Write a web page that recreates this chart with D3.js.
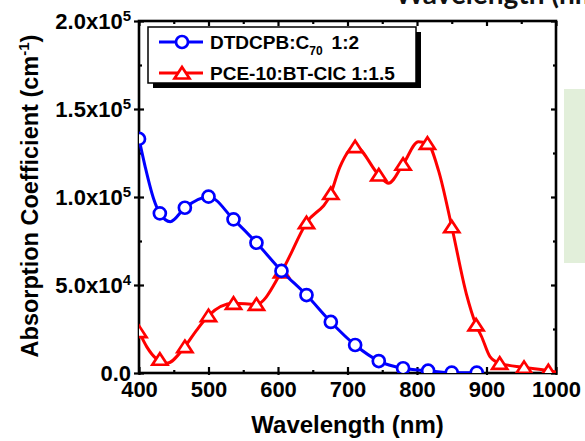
<!DOCTYPE html>
<html>
<head>
<meta charset="utf-8">
<script src="https://cdn.jsdelivr.net/npm/d3@7"></script>
<style>
body{margin:0;background:#fff;overflow:hidden}
svg{display:block;font-family:"Liberation Sans",Arial,sans-serif;font-weight:bold}
</style>
</head>
<body>
<svg id="chart" width="585" height="441"></svg>
<script>
// DTDCPB:C70 1:2 -- line points and symbol points (cm^-1)
var blueLineWl  = [400,409,421,430,445,466,500,536,569,605,641,676,711,745,780,816,850,886]
var blueLineVal = [133000,117000,99000,90700,86000,93900,100200,87300,74000,58000,44300,29000,15900,6800,2700,1300,200,200]
var blueMarkWl  = [400,430,466,500,536,569,605,641,676,711,745,780,816,850,886]
var blueMarkVal = [133000,90700,93900,100200,87300,74000,58000,44300,29000,15900,6800,2700,1300,200,200]

// PCE-10:BT-CIC 1:1.5
var redLineWl  = [400,411,440,466,483,500,536,569,605,641,676,689,711,745,759,780,802,815,831,850,871,885,893,905,919,954,989,1000]
var redLineVal = [23500,15000,5500,15000,24400,32600,39600,39000,57500,85400,102000,117000,128600,112500,107800,118600,131400,130500,115000,83100,45000,27300,20600,9300,5500,3200,1300,500]
var redMarkWl  = [400,430,466,500,536,569,605,641,676,711,745,780,815,850,885,919,954,989]
var redMarkVal = [23500,7800,15000,32600,39600,39000,57500,85400,102000,128600,112500,118600,130500,83100,27300,5500,3200,1300]

var xTicks = [400,500,600,700,800,900,1000]
var xMinor = [450,550,650,750,850,950]
var yTicks = [0,50000,100000,150000,200000]
var yMinor = [25000,75000,125000,175000]
var yMant  = ["0.0","5.0x10","1.0x10","1.5x10","2.0x10"]
var yExp   = ["","4","5","5","5"]

var pL=139,pR=556,pT=21,pB=373
var svg=d3.select("#chart")

var x=d3.scaleLinear().domain([400,1000]).range([pL,pR])
var y=d3.scaleLinear().domain([0,200000]).range([pB,pT])

// stray bits of the page around the figure
svg.append("rect").attr("x",564).attr("y",89).attr("width",30).attr("height",174).attr("fill","#e2efda")
svg.append("text").attr("x",395).attr("y",4)
   .style("font-family","Lato,'Open Sans',sans-serif").style("font-size","28px")
   .attr("fill","#111").text("Wavelength (nm)")

svg.append("clipPath").attr("id","plotclip")
   .append("rect").attr("x",pL).attr("y",pT).attr("width",pR-pL).attr("height",pB-pT)

function styleAxis(g){
  g.select(".domain").remove()
  g.selectAll(".tick line").attr("stroke","#000").attr("stroke-width",2.2)
}

// bottom
svg.append("g").attr("transform",`translate(0,${pB})`)
   .call(d3.axisBottom(x).tickValues(xTicks).tickSize(-6).tickFormat(d3.format("d")))
   .call(styleAxis)
   .call(g=>g.selectAll("text").attr("y",24).attr("dy",null)
        .style("font-size","22px").style("font-family","'Liberation Sans',Arial,sans-serif").attr("fill","#000"))
svg.append("g").attr("transform",`translate(0,${pB})`)
   .call(d3.axisBottom(x).tickValues(xTicks).tickSize(2).tickFormat(""))
   .call(styleAxis)
svg.append("g").attr("transform",`translate(0,${pB})`)
   .call(d3.axisBottom(x).tickValues(xMinor).tickSize(-3).tickFormat(""))
   .call(styleAxis)
// top
svg.append("g").attr("transform",`translate(0,${pT})`)
   .call(d3.axisTop(x).tickValues(xTicks).tickSize(-5).tickFormat(""))
   .call(styleAxis)
svg.append("g").attr("transform",`translate(0,${pT})`)
   .call(d3.axisTop(x).tickValues(xMinor).tickSize(-3).tickFormat(""))
   .call(styleAxis)

// left
var yl=svg.append("g").attr("transform",`translate(${pL},0)`)
   .call(d3.axisLeft(y).tickValues(yTicks).tickSize(5).tickFormat(""))
   .call(styleAxis)
yl.selectAll("text").remove()
yl.selectAll(".tick").append("text")
   .attr("x",-8).attr("dy","0.36em").attr("text-anchor","end")
   .style("font-size","22px").style("font-family","'Liberation Sans',Arial,sans-serif").attr("fill","#000")
   .each(function(d,i){
     var t=d3.select(this)
     t.append("tspan").text(yMant[i])
     if(yExp[i]) t.append("tspan").attr("dy",-8).style("font-size","15px").text(yExp[i])
   })
svg.append("g").attr("transform",`translate(${pL},0)`)
   .call(d3.axisLeft(y).tickValues(yTicks).tickSize(-5).tickFormat(""))
   .call(styleAxis)
svg.append("g").attr("transform",`translate(${pL},0)`)
   .call(d3.axisLeft(y).tickValues(yMinor).tickSize(-3).tickFormat(""))
   .call(styleAxis)
// right
svg.append("g").attr("transform",`translate(${pR},0)`)
   .call(d3.axisRight(y).tickValues(yTicks).tickSize(-5).tickFormat(""))
   .call(styleAxis)
svg.append("g").attr("transform",`translate(${pR},0)`)
   .call(d3.axisRight(y).tickValues(yMinor).tickSize(-3).tickFormat(""))
   .call(styleAxis)

// frame
svg.append("rect").attr("x",pL).attr("y",pT).attr("width",pR-pL).attr("height",pB-pT)
   .attr("fill","none").attr("stroke","#000").attr("stroke-width",2.6)

// titles
svg.append("text").attr("x",(pL+pR)/2).attr("y",433).attr("text-anchor","middle")
   .style("font-size","24px").text("Wavelength (nm)")
var yt=svg.append("text").attr("transform","translate(38,196) rotate(-90)").attr("text-anchor","middle")
   .style("font-size","23.5px")
yt.append("tspan").text("Absorption Coefficient (cm")
yt.append("tspan").attr("dy",-9).style("font-size","15px").text("-1")
yt.append("tspan").attr("dy",9).text(")")

// series
var line=d3.line().x(d=>x(d[0])).y(d=>y(d[1])).curve(d3.curveMonotoneX)
var tri="M0,-6L7.5,5.5L-7.5,5.5Z"
var plot=svg.append("g").attr("clip-path","url(#plotclip)")

function drawSeries(wl,val,mwl,mval,color,marker){
  plot.append("path").datum(d3.zip(wl,val))
      .attr("d",line).attr("fill","none").attr("stroke",color).attr("stroke-width",3)
  var pts=d3.zip(mwl,mval)
  if(marker=="circle"){
    plot.selectAll(null).data(pts).enter().append("circle")
        .attr("cx",d=>x(d[0])).attr("cy",d=>y(d[1])).attr("r",6)
        .attr("fill","#fff").attr("stroke",color).attr("stroke-width",2.7)
  } else {
    plot.selectAll(null).data(pts).enter().append("path")
        .attr("d",tri).attr("transform",d=>`translate(${x(d[0])},${y(d[1])})`)
        .attr("fill","#fff").attr("stroke",color).attr("stroke-width",2.7)
  }
}
drawSeries(redLineWl,redLineVal,redMarkWl,redMarkVal,"#ff0000","triangle")
drawSeries(blueLineWl,blueLineVal,blueMarkWl,blueMarkVal,"#0000ff","circle")

// legend
var lg=svg.append("g").attr("transform","translate(148,27)")
lg.append("rect").attr("x",5).attr("y",5).attr("width",268).attr("height",56).attr("fill","#000")
lg.append("rect").attr("x",0).attr("y",0).attr("width",268).attr("height",56)
  .attr("fill","#fff").attr("stroke","#000").attr("stroke-width",1.5)
var rows=[{c:"#0000ff",m:"circle",y:15},{c:"#ff0000",m:"triangle",y:46}]
rows.forEach(function(r){
  lg.append("line").attr("x1",11).attr("x2",55).attr("y1",r.y).attr("y2",r.y)
    .attr("stroke",r.c).attr("stroke-width",3)
  if(r.m=="circle") lg.append("circle").attr("cx",34).attr("cy",r.y).attr("r",6)
    .attr("fill","#fff").attr("stroke",r.c).attr("stroke-width",2.7)
  else lg.append("path").attr("d",tri).attr("transform",`translate(34,${r.y})`)
    .attr("fill","#fff").attr("stroke",r.c).attr("stroke-width",2.7)
})
var l1=lg.append("text").attr("x",62).attr("y",22).style("font-size","19px")
l1.append("tspan").text("DTDCPB:C")
l1.append("tspan").attr("dy",6).style("font-size","12px").text("70")
l1.append("tspan").attr("dy",-6).attr("dx",9).text("1:2")
lg.append("text").attr("x",62).attr("y",53).style("font-size","19px").text("PCE-10:BT-CIC 1:1.5")
</script>
</body>
</html>
